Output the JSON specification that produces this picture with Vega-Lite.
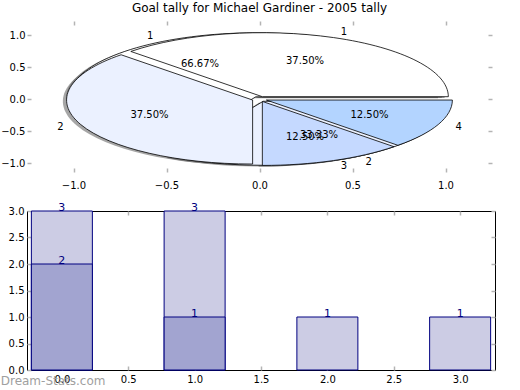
{
  "$schema": "https://vega.github.io/schema/vega-lite/v6.json",
  "background": "white",
  "padding": {"left": 0, "top": 2, "right": 5, "bottom": 0},
  "spacing": 11,
  "config": {
    "font": "DejaVu Sans",
    "axis": {"labelFont": "DejaVu Sans", "labelFontSize": 10, "labelColor": "black", "grid": false, "domain": false, "tickColor": "#b4b4b4", "tickWidth": 1.5, "tickSize": -4, "title": null}
  },
  "title": {"text": "Dream-Stats.com", "orient": "bottom", "anchor": "start", "frame": "bounds", "fontSize": 12, "fontWeight": "normal", "color": "#a0a0a0", "offset": -9},
  "datasets": {
    "slices": [
      {"pie": "two", "wedge": "2-1", "slice": "1", "value": 2},
      {"pie": "two", "wedge": "2-2", "slice": "2", "value": 1},
      {"pie": "four", "wedge": "4-1", "slice": "1", "value": 3},
      {"pie": "four", "wedge": "4-2", "slice": "2", "value": 3},
      {"pie": "four", "wedge": "4-3", "slice": "3", "value": 1},
      {"pie": "four", "wedge": "4-4", "slice": "4", "value": 1}
    ],
    "bars": [
      {"pos": 0, "total": 3, "part": 2},
      {"pos": 1, "total": 3, "part": 1},
      {"pos": 2, "total": 1, "part": 0},
      {"pos": 3, "total": 1, "part": 0}
    ]
  },
  "vconcat": [
    {
      "width": 465,
      "height": 151,
      "title": {"text": "Goal tally for Michael Gardiner - 2005 tally", "fontSize": 12, "fontWeight": "normal", "color": "black", "frame": "group", "offset": 5},
      "view": {"stroke": null},
      "resolve": {"axis": {"x": "independent", "y": "independent"}},
      "layer": [
        {
          "data": {"name": "slices"},
          "mark": {"type": "point", "filled": true, "size": 138384, "opacity": 0.5, "color": "#4d4d4d", "strokeWidth": 0, "xOffset": -3.72, "yOffset": 1.28},
          "encoding": {
            "x": {"datum": 0, "type": "quantitative", "scale": {"domain": [-1.25, 1.25], "nice": false, "zero": false}, "axis": {"orient": "bottom", "values": [-1, -0.5, 0, 0.5, 1], "format": ".1f", "labelPadding": 12}},
            "y": {"datum": 0, "type": "quantitative", "scale": {"domain": [-1.14, 1.22], "nice": false, "zero": false}, "axis": {"orient": "left", "values": [-1, -0.5, 0, 0.5, 1], "format": ".1f", "labelPadding": 6}},
            "shape": {"field": "wedge", "type": "nominal", "legend": null,
              "scale": {"domain": ["2-1", "2-2", "4-1", "4-2", "4-3", "4-4"],
                "range": [
                  "M-0.0200,-0.0119L0.9800,-0.0119A1,0.3441,0,1,0,-0.5200,0.2861Z",
                  "M0.0200,0.0119L-0.4800,0.3099A1,0.3441,0,0,0,1.0200,0.0119Z",
                  "M0.0153,-0.0127L1.0153,-0.0127A1,0.3441,0,0,0,-0.6918,-0.2560Z",
                  "M-0.0370,0.0053L-0.7441,-0.2381A1,0.3441,0,0,0,-0.0370,0.3494Z",
                  "M0.0153,0.0127L0.0153,0.3568A1,0.3441,0,0,0,0.7224,0.2560Z",
                  "M0.0370,0.0053L0.7441,0.2486A1,0.3441,0,0,0,1.0370,0.0053Z"
                ]}}
          }
        },
        {
          "data": {"name": "slices"},
          "transform": [{"filter": "datum.pie === 'two'"}],
          "mark": {"type": "point", "filled": true, "size": 138384, "opacity": 1, "stroke": "black", "strokeWidth": 0.8},
          "encoding": {
            "x": {"datum": 0, "type": "quantitative", "axis": null},
            "y": {"datum": 0, "type": "quantitative", "axis": null},
            "shape": {"field": "wedge", "type": "nominal", "legend": null},
            "color": {"field": "wedge", "type": "nominal", "legend": null,
              "scale": {"domain": ["2-1", "2-2", "4-1", "4-2", "4-3", "4-4"], "range": ["#ffffff", "#ebf1ff", "#ffffff", "#ebf1ff", "#c5d9ff", "#b3d4ff"]}}
          }
        },
        {
          "data": {"name": "slices"},
          "transform": [{"filter": "datum.pie === 'four'"}],
          "mark": {"type": "point", "filled": true, "size": 138384, "opacity": 1, "stroke": "black", "strokeWidth": 0.8},
          "encoding": {
            "x": {"datum": 0, "type": "quantitative", "axis": null},
            "y": {"datum": 0, "type": "quantitative", "axis": null},
            "shape": {"field": "wedge", "type": "nominal", "legend": null},
            "color": {"field": "wedge", "type": "nominal", "legend": null}
          }
        },
        {
          "data": {"name": "slices"},
          "transform": [
            {"stack": "value", "groupby": ["pie"], "sort": [{"field": "slice"}], "as": ["v0", "v1"]},
            {"joinaggregate": [{"op": "sum", "field": "value", "as": "total"}], "groupby": ["pie"]},
            {"calculate": "PI * (datum.v0 + datum.v1) / datum.total", "as": "mid"},
            {"calculate": "1.14 * cos(datum.mid)", "as": "lx"},
            {"calculate": "1.14 * sin(datum.mid)", "as": "ly"}
          ],
          "mark": {"type": "text", "fontSize": 10, "color": "black", "baseline": "middle", "align": {"expr": "datum.lx > 0 ? 'left' : 'right'"}},
          "encoding": {
            "x": {"field": "lx", "type": "quantitative", "axis": {"orient": "top", "labels": false, "values": [-1, -0.5, 0, 0.5, 1]}},
            "y": {"field": "ly", "type": "quantitative", "axis": {"orient": "right", "labels": false, "values": [-1, -0.5, 0, 0.5, 1]}},
            "text": {"field": "slice", "type": "nominal"}
          }
        },
        {
          "data": {"name": "slices"},
          "transform": [
            {"stack": "value", "groupby": ["pie"], "sort": [{"field": "slice"}], "as": ["v0", "v1"]},
            {"joinaggregate": [{"op": "sum", "field": "value", "as": "total"}], "groupby": ["pie"]},
            {"calculate": "PI * (datum.v0 + datum.v1) / datum.total", "as": "mid"},
            {"calculate": "0.64 * cos(datum.mid)", "as": "px"},
            {"calculate": "0.64 * sin(datum.mid)", "as": "py"},
            {"calculate": "datum.value / datum.total", "as": "share"}
          ],
          "mark": {"type": "text", "fontSize": 10, "color": "black", "baseline": "middle", "align": "center"},
          "encoding": {
            "x": {"field": "px", "type": "quantitative", "axis": null},
            "y": {"field": "py", "type": "quantitative", "axis": null},
            "text": {"field": "share", "type": "quantitative", "format": ".2%"}
          }
        }
      ]
    },
    {
      "width": 468,
      "height": 159,
      "view": {"stroke": "black", "strokeWidth": 1},
      "resolve": {"axis": {"x": "independent", "y": "independent"}},
      "data": {"name": "bars"},
      "layer": [
        {
          "mark": {"type": "bar", "width": 61, "fill": "#ccccE4", "stroke": "#000080", "strokeWidth": 1},
          "encoding": {
            "x": {"field": "pos", "type": "quantitative", "scale": {"domain": [-0.225, 3.225], "nice": false, "zero": false}, "axis": {"orient": "bottom", "values": [0, 0.5, 1, 1.5, 2, 2.5, 3], "format": ".1f", "labelPadding": 8}},
            "y": {"field": "total", "type": "quantitative", "scale": {"domain": [0, 3], "nice": false}, "axis": {"orient": "left", "values": [0, 0.5, 1, 1.5, 2, 2.5, 3], "format": ".1f", "labelPadding": 7}}
          }
        },
        {
          "transform": [{"filter": "datum.part > 0"}],
          "mark": {"type": "bar", "width": 61, "fill": "#a2a4d0", "stroke": "#000080", "strokeWidth": 1},
          "encoding": {
            "x": {"field": "pos", "type": "quantitative", "axis": null},
            "y": {"field": "part", "type": "quantitative", "axis": null}
          }
        },
        {
          "mark": {"type": "text", "fontSize": 11, "color": "#000080", "baseline": "alphabetic", "align": "center"},
          "encoding": {
            "x": {"field": "pos", "type": "quantitative", "axis": {"orient": "top", "labels": false, "values": [0, 0.5, 1, 1.5, 2, 2.5, 3]}},
            "y": {"field": "total", "type": "quantitative", "axis": {"orient": "right", "labels": false, "values": [0, 0.5, 1, 1.5, 2, 2.5, 3]}},
            "text": {"field": "total", "type": "quantitative"}
          }
        },
        {
          "transform": [{"filter": "datum.part > 0"}],
          "mark": {"type": "text", "fontSize": 11, "color": "#000080", "baseline": "alphabetic", "align": "center"},
          "encoding": {
            "x": {"field": "pos", "type": "quantitative", "axis": null},
            "y": {"field": "part", "type": "quantitative", "axis": null},
            "text": {"field": "part", "type": "quantitative"}
          }
        }
      ]
    }
  ]
}
